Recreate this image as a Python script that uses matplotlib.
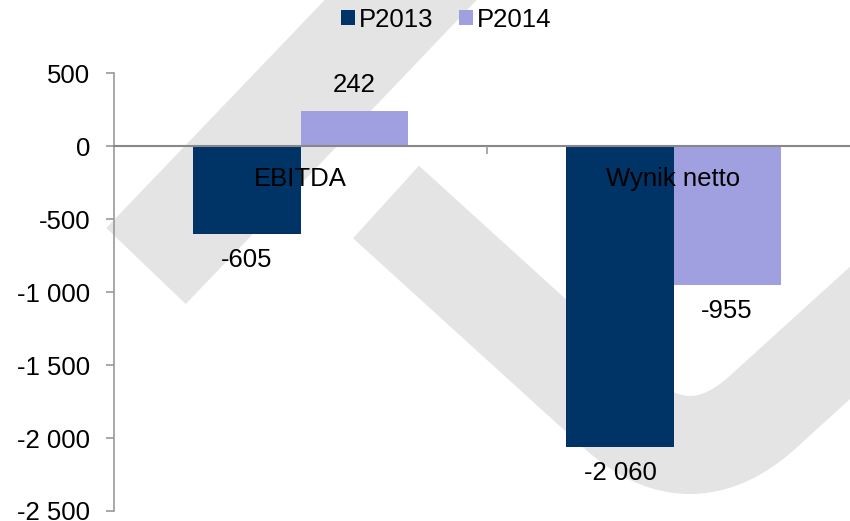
import matplotlib
matplotlib.use("Agg")
import numpy as np
from matplotlib import pyplot as plt
from matplotlib.patches import Polygon
from matplotlib.transforms import Affine2D

plt.rcParams["font.family"] = ["Liberation Sans", "DejaVu Sans"]

categories = ["EBITDA", "Wynik netto"]
series_names = ["P2013", "P2014"]
p2013 = [-605, -2060]
p2014 = [242, -955]
y_ticks = [500, 0, -500, -1000, -1500, -2000, -2500]

colors = ["#003366", "#a09fdf"]
W, H = 850, 521
FS = 18.5


def thick_stroke(pts, width):
    # turn a centre line into a filled outline (figure pixels)
    pts = np.asarray(pts, float)
    d = np.gradient(pts, axis=0)
    d /= np.linalg.norm(d, axis=1)[:, None]
    n = np.column_stack([-d[:, 1], d[:, 0]])
    left = pts + n * width / 2
    right = pts - n * width / 2
    return np.vstack([left, right[::-1]])


def hook_centre():
    a, c, b = np.array([616, 411]), np.array([690, 479]), np.array([764, 411])
    start, end = np.array([386, 202]), np.array([960, 233])
    t = np.linspace(0, 1, 50)[:, None]
    seg1 = start + (a - start) * np.linspace(0, 1, 20)[:-1, None]
    curve = (1 - t) ** 2 * a + 2 * (1 - t) * t * c + t ** 2 * b
    seg2 = b + (end - b) * np.linspace(0, 1, 20)[1:, None]
    return np.vstack([seg1, curve, seg2])


fig = plt.figure(figsize=(W / 100, H / 100), dpi=100)

# background logo watermark, drawn in figure pixels (origin top-left)
px = Affine2D().scale(1 / W, -1 / H).translate(0, 1) + fig.transFigure
band = thick_stroke([(146, 266), (330, 74), (520, -125)], 110)
hook = thick_stroke(hook_centre(), 98)
for shape in (band, hook):
    fig.add_artist(Polygon(shape, closed=True, transform=px, facecolor="#e4e4e4",
                           edgecolor="none", zorder=-5))

ax = fig.add_axes([114 / W, 10 / H, 746 / W, 438 / H])
ax.patch.set_visible(False)

x = np.arange(len(categories))
bw = 0.287
bars1 = ax.bar(x - bw / 2, p2013, bw, color=colors[0], label=series_names[0], zorder=1)
bars2 = ax.bar(x + bw / 2, p2014, bw, color=colors[1], label=series_names[1], zorder=1)

for bars in (bars1, bars2):
    for b in bars:
        v = b.get_height()
        txt = f"{v:,}".replace(",", " ")
        off, va = (10, "bottom") if v >= 0 else (-10, "top")
        ax.annotate(txt, (b.get_x() + b.get_width() / 2, v), xytext=(0, off),
                    textcoords="offset points", ha="center", va=va, fontsize=FS)

ax.set_xlim(-0.5, 1.5)
ax.set_ylim(-2500, 500)
ax.set_yticks(y_ticks)
ax.set_yticklabels([f"{t:,}".replace(",", " ") for t in y_ticks], fontsize=FS)
ax.tick_params(axis="y", direction="out", length=6, width=1.2, color="#999999", pad=11)

ax.spines["top"].set_visible(False)
ax.spines["right"].set_visible(False)
ax.spines["left"].set_color("#999999")
ax.spines["left"].set_linewidth(1.2)
ax.spines["bottom"].set_position(("data", 0))
ax.spines["bottom"].set_color("#888888")
ax.spines["bottom"].set_linewidth(1.5)
ax.spines["bottom"].set_zorder(3)

ax.set_xticks([0.5])
ax.set_xticklabels([""])
ax.tick_params(axis="x", which="major", direction="out", length=6, width=1.2, color="#999999")
ax.set_xticks(x, minor=True)
ax.set_xticklabels(categories, minor=True, fontsize=FS)
ax.tick_params(axis="x", which="minor", length=0, pad=15)
ax.xaxis.set_zorder(3)

fig.legend(loc="center", bbox_to_anchor=(0.525, 0.962), ncol=2, frameon=False,
           fontsize=FS, handlelength=0.55, handleheight=0.55, handletextpad=0.15,
           columnspacing=1.0)

plt.savefig("out.png", dpi=100)
